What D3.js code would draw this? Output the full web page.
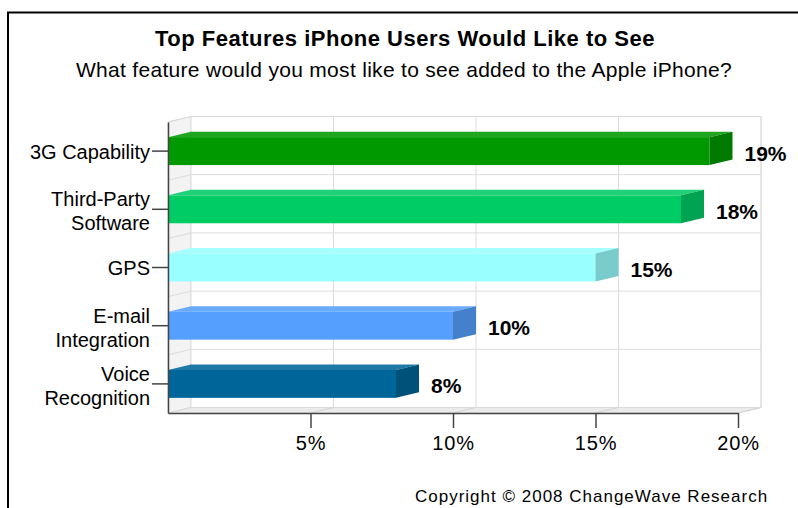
<!DOCTYPE html>
<html>
<head>
<meta charset="utf-8">
<script src="https://cdn.jsdelivr.net/npm/d3@7"></script>
<style>
  body { margin: 0; background: #fff; }
  text { font-family: "Liberation Sans", Arial, sans-serif; fill: #000; }
</style>
</head>
<body>
<div id="chart"></div>
<script>
// data
var categories = ["3G Capability", "Third-Party\nSoftware", "GPS", "E-mail\nIntegration", "Voice\nRecognition"];
var values = [19, 18, 15, 10, 8];
var xTicks = [5, 10, 15, 20];

var barColors = ["#009900", "#00cc66", "#99ffff", "#55a0ff", "#006699"];

var width = 798;
var height = 508;

// 3d depth of walls and bars
var dx = 23;
var dy = -5.5;

var svg = d3
  .select("#chart")
  .append("svg")
  .attr("width", width)
  .attr("height", height);

// frame
svg.append("rect")
  .attr("x", 8).attr("y", 12.5)
  .attr("width", 900).attr("height", 600)
  .attr("fill", "#fff")
  .attr("stroke", "#000")
  .attr("stroke-width", 2);

// titles
svg.append("text")
  .attr("x", 405).attr("y", 46)
  .attr("text-anchor", "middle")
  .attr("font-size", 22)
  .attr("font-weight", "bold")
  .attr("letter-spacing", 0.5)
  .text("Top Features iPhone Users Would Like to See");

svg.append("text")
  .attr("x", 404).attr("y", 77)
  .attr("text-anchor", "middle")
  .attr("font-size", 21)
  .attr("letter-spacing", 0.3)
  .text("What feature would you most like to see added to the Apple iPhone?");

var xScale = d3.scaleLinear().domain([0, 20]).range([168, 738]);
var yScale = d3.scaleBand()
  .domain(categories)
  .range([122, 413])
  .paddingInner(0.52)
  .paddingOuter(0.26);

var x0 = xScale(0);
var x1 = xScale(20);
var yTop = yScale.range()[0];
var yBot = yScale.range()[1];
var step = yScale.step();

var grid = svg.append("g").attr("class", "walls");

// left wall
grid.append("polygon")
  .attr("points", [[x0, yTop], [x0 + dx, yTop + dy], [x0 + dx, yBot + dy], [x0, yBot]].join(" "))
  .attr("fill", "#f3f3f3")
  .attr("stroke", "#dcdcdc");

// back wall
grid.append("rect")
  .attr("x", x0 + dx).attr("y", yTop + dy)
  .attr("width", x1 - x0).attr("height", yBot - yTop)
  .attr("fill", "#fff")
  .attr("stroke", "#dcdcdc");

// floor
grid.append("polygon")
  .attr("points", [[x0, yBot], [x0 + dx, yBot + dy], [x1 + dx, yBot + dy], [x1, yBot]].join(" "))
  .attr("fill", "#ebebeb")
  .attr("stroke", "#dcdcdc");

var bounds = d3.range(categories.length + 1).map(function(i) { return yTop + i * step; });

grid.selectAll("line.hgrid").data(bounds).enter()
  .append("line")
  .attr("class", "hgrid")
  .attr("x1", x0 + dx).attr("x2", x1 + dx)
  .attr("y1", function(d) { return d + dy; })
  .attr("y2", function(d) { return d + dy; })
  .attr("stroke", "#dcdcdc");

grid.selectAll("line.lgrid").data(bounds).enter()
  .append("line")
  .attr("class", "lgrid")
  .attr("x1", x0).attr("x2", x0 + dx)
  .attr("y1", function(d) { return d; })
  .attr("y2", function(d) { return d + dy; })
  .attr("stroke", "#dcdcdc");

grid.selectAll("line.vgrid").data(xTicks).enter()
  .append("line")
  .attr("class", "vgrid")
  .attr("x1", function(d) { return xScale(d) + dx; })
  .attr("x2", function(d) { return xScale(d) + dx; })
  .attr("y1", yTop + dy).attr("y2", yBot + dy)
  .attr("stroke", "#dcdcdc");

grid.selectAll("line.fgrid").data(xTicks).enter()
  .append("line")
  .attr("class", "fgrid")
  .attr("x1", function(d) { return xScale(d); })
  .attr("x2", function(d) { return xScale(d) + dx; })
  .attr("y1", yBot).attr("y2", yBot + dy)
  .attr("stroke", "#d4d4d4");

// bars
var bars = svg.selectAll("g.bar")
  .data(values)
  .enter()
  .append("g")
  .attr("class", "bar");

function barTop(d, i) { return yScale(categories[i]); }
function barBottom(d, i) { return yScale(categories[i]) + yScale.bandwidth(); }

bars.append("polygon")
  .attr("points", function(d, i) {
    var t = barTop(d, i), xv = xScale(d);
    return [[x0, t], [x0 + dx, t + dy], [xv + dx, t + dy], [xv, t]].join(" ");
  })
  .attr("fill", function(d, i) { return d3.interpolateRgb(barColors[i], "#ffffff")(0.12); });

bars.append("rect")
  .attr("x", x0)
  .attr("y", function(d, i) { return barTop(d, i); })
  .attr("width", function(d) { return xScale(d) - x0; })
  .attr("height", yScale.bandwidth())
  .attr("fill", function(d, i) { return barColors[i]; });

bars.append("polygon")
  .attr("points", function(d, i) {
    var t = barTop(d, i), b = barBottom(d, i), xv = xScale(d);
    return [[xv, t], [xv + dx, t + dy], [xv + dx, b + dy], [xv, b]].join(" ");
  })
  .attr("fill", function(d, i) { return d3.color(barColors[i]).darker(0.63); });

// value labels
bars.append("text")
  .attr("x", function(d) { return xScale(d) + dx + 12; })
  .attr("y", function(d, i) { return yScale(categories[i]) + yScale.bandwidth() / 2 + 9.5; })
  .attr("font-size", 21)
  .attr("font-weight", "bold")
  .text(function(d) { return d + "%"; });

// axes
var xAxis = d3.axisBottom(xScale)
  .tickValues(xTicks)
  .tickFormat(function(d) { return d + "%"; })
  .tickSize(15)
  .tickSizeOuter(0)
  .tickPadding(8);

var yAxis = d3.axisLeft(yScale)
  .tickSize(16)
  .tickSizeOuter(0)
  .tickPadding(2);

var gx = svg.append("g")
  .attr("class", "xAxis")
  .attr("transform", "translate(0," + yBot + ")")
  .call(xAxis);

gx.selectAll("text")
  .attr("font-size", 20)
  .attr("letter-spacing", 0.8)
  .attr("font-family", "Liberation Sans, Arial, sans-serif")
  .attr("fill", "#000");

var gy = svg.append("g")
  .attr("class", "yAxis")
  .attr("transform", "translate(" + x0 + ",0)")
  .call(yAxis);

gy.selectAll("text").each(function(d) {
  var el = d3.select(this);
  var lines = d.split("\n");
  el.text(null).attr("dy", null)
    .attr("font-size", 20)
    .attr("font-family", "Liberation Sans, Arial, sans-serif")
    .attr("fill", "#000");
  var first = lines.length === 1 ? 7.5 : -3;
  lines.forEach(function(line, k) {
    el.append("tspan")
      .attr("x", -18)
      .attr("y", first + k * 24)
      .text(line);
  });
});

svg.selectAll(".xAxis path, .xAxis line, .yAxis path, .yAxis line")
  .attr("stroke", "#444")
  .attr("stroke-width", 1.5);

// copyright
svg.append("text")
  .attr("x", 415).attr("y", 502)
  .attr("font-family", "DejaVu Sans, Verdana, sans-serif")
  .attr("font-size", 17)
  .attr("letter-spacing", 1)
  .text("Copyright \u00a9 2008 ChangeWave Research");
</script>
</body>
</html>
